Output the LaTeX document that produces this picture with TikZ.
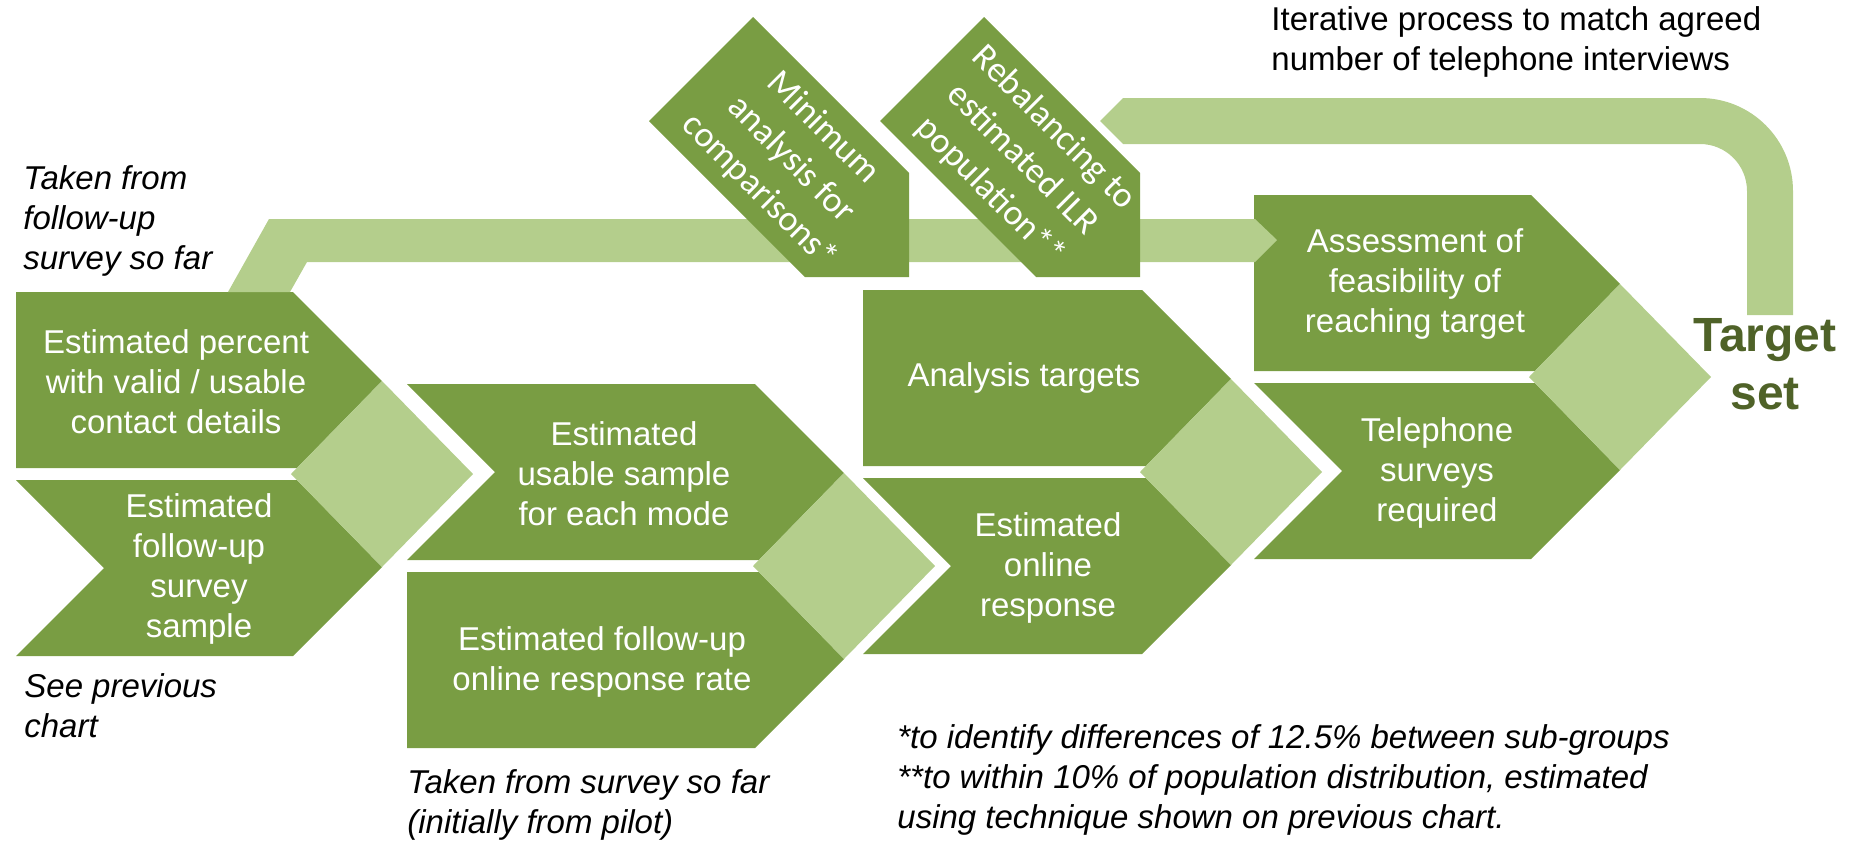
\documentclass[tikz,border=0pt]{standalone}
\usepackage{fontspec}
\setmainfont{Liberation Sans}
\newfontfamily\tagfont{Carlito}
\usetikzlibrary{positioning}
\definecolor{leaf}{HTML}{799D43}
\definecolor{sprout}{HTML}{B4CE8C}
\definecolor{moss}{HTML}{4F6228}

\begin{document}
\begin{tikzpicture}[x=0.5pt,y=-0.5pt,
  stagetext/.style={text=white,align=center,inner sep=0pt,font=\fontsize{16.5}{20}\selectfont},
  remark/.style={align=left,anchor=north west,inner sep=0pt,font=\fontsize{16.5}{20}\selectfont\itshape},
  tagtext/.style={text=white,align=center,inner sep=0pt,rotate=-45,font=\tagfont\fontsize{18}{22.5}\selectfont}]
  \useasboundingbox (0,0) rectangle (1854,842);
  % stage pairs: left edge, top edge, right edge, notch of upper / lower block
  \foreach \xl/\yt/\xr/\nt/\nb in {16/292/293/0/88, 407/384/755/88/0, 863/290/1142/0/88, 1254/195/1531/0/88}{
    \fill[leaf] (\xl,\yt) -- (\xr,\yt) -- (\xr+89,\yt+89) -- (\xr+4,\yt+176) -- (\xl,\yt+176) -- (\xl+\nt,\yt+88) -- cycle;
    \fill[leaf] (\xl,\yt+188) -- (\xr+4,\yt+188) -- (\xr+89,\yt+275) -- (\xr,\yt+364) -- (\xl,\yt+364) -- (\xl+\nb,\yt+276) -- cycle;
    \fill[sprout] (\xr+89,\yt+89) -- (\xr+180,\yt+182) -- (\xr+89,\yt+275) -- (\xr-2,\yt+182) -- cycle;
  }
  % feed from the first stage into the assessment
  \coordinate (feed) at (228,292);
  \coordinate (feedtip) at (1277,240);
  \fill[sprout] (feed) -- (269,219) -- (1255,219) -- (feedtip) -- (1255,262) -- (307,262) -- (290,292) -- cycle;
  % the two tags
  \fill[leaf] (753,17) -- (649,121) -- (805,277) -- (909,277) -- (909,173) -- cycle;
  \fill[leaf] (984,17) -- (880,121) -- (1036,277) -- (1140,277) -- (1140,173) -- cycle;
  % loop back from the target
  \coordinate (loopstart) at (1793,315);
  \coordinate (looptip) at (1100,121);
  \fill[sprout] (loopstart) -- (1793,191) arc (0:-90:93) -- (1123,98) -- (looptip) -- (1123,144) -- (1700,144) arc (-90:0:47) -- (1747,315) -- cycle;

  \node[stagetext] (pct) at (176,382) {Estimated percent\\with valid / usable\\contact details};
  \node[stagetext] (fusample) at (199,569) {Estimated\\follow-up\\survey\\sample};
  \node[stagetext] (usable) at (624,474) {Estimated\\usable sample\\for each mode};
  \node[stagetext] (rate) at (602,662) {Estimated follow-up\\online response rate};
  \node[stagetext] (analysis) at (1024,378) {Analysis targets};
  \node[stagetext] (online) at (1048,568) {Estimated\\online\\response};
  \node[stagetext] (assess) at (1415,284) {Assessment of\\feasibility of\\reaching target};
  \node[stagetext] (phone) at (1437,473) {Telephone\\surveys\\required};
  \node[text=moss,align=center,inner sep=0pt,font=\bfseries\fontsize{24}{29}\selectfont] (target) at (1765,364) {Target\\set};
  \node[tagtext] (tagmin) at (791,160) {Minimum\\analysis for\\comparisons*};
  \node[tagtext] (tagilr) at (1022,160) {Rebalancing to\\estimated ILR\\population**};

  \node[remark] (fromfollow) at (23,165) {Taken from\\follow-up\\survey so far};
  \node[remark] (seeprev) at (24,673) {See previous\\chart};
  \node[remark] (frompilot) at (407,769) {Taken from survey so far\\(initially from pilot)};
  \node[remark] (footnotes) at (897,724) {*to identify differences of 12.5\% between sub-groups\\**to within 10\% of population distribution, estimated\\using technique shown on previous chart.};
  \node[remark,font=\fontsize{16.5}{20}\selectfont] (iterate) at (1271,6) {Iterative process to match agreed\\number of telephone interviews};
\end{tikzpicture}
\end{document}
